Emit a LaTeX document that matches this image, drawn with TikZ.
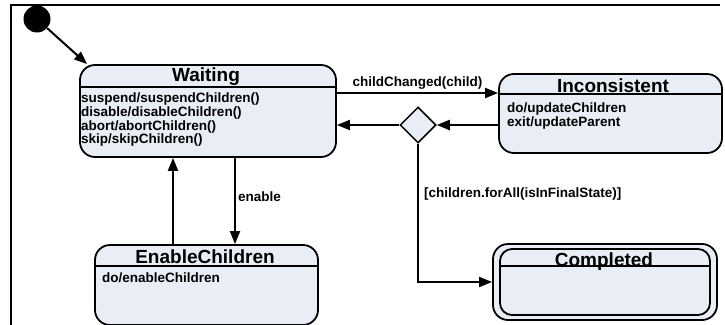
\documentclass[tikz,border=0pt]{standalone}
\usepackage{fontspec}
\setmainfont{Liberation Sans}
\usetikzlibrary{
    arrows.meta,
    shapes.geometric,
    calc,
    positioning
}
\definecolor{stfill}{RGB}{232,237,246}
\tikzset{
    >={Triangle[length=13pt,width=10pt]},
    statebox/.style={draw, line width=1.8pt, fill=stfill, rounded corners=15pt, inner sep=0pt},
    stitle/.style={font=\fontsize{19}{19}\selectfont\bfseries, inner sep=0pt, anchor=base},
    sbody/.style={font=\fontsize{13.5}{12.5}\selectfont\bfseries, align=left, inner sep=0pt, anchor=north west},
    tlabel/.style={font=\fontsize{13.5}{13.5}\selectfont\bfseries, inner sep=0pt},
    conn/.style={line width=2pt}
}

\begin{document}
\begin{tikzpicture}[x=1pt, y=-1pt]
                        \useasboundingbox (0,0) rectangle (725,324);
                        \draw[line width=2.5pt] (11,330) -- (11,5) -- (720,5);

                        \node[circle, fill=black, minimum size=27pt, inner sep=0pt] (init) at (37,19) {};

                        \node[statebox, minimum width=256pt, minimum height=92pt] (waiting) at (208,111) {};
                        \draw[line width=1.8pt] ($(waiting.north west)+(0,23)$) -- ($(waiting.north east)+(0,23)$);
                        \node[stitle] (waitingname) at (206,81) {Waiting};
                        \node[sbody] (waitingdo) at (81,93) {suspend/suspendChildren()\\
                            disable/disableChildren()\\
                            abort/abortChildren()\\
                            skip/skipChildren()};

                        \node[statebox, minimum width=223pt, minimum height=79pt] (inc) at (610.5,113.5) {};
                        \draw[line width=1.8pt] ($(inc.north west)+(0,21)$) -- ($(inc.north east)+(0,21)$);
                        \node[stitle] (incname) at (613,92) {Inconsistent};
                        \node[sbody] (incdo) at (507,103) {do/updateChildren\\
                            exit/updateParent};

                        \node[statebox, minimum width=223pt, minimum height=80pt] (enable) at (206.5,285) {};
                        \draw[line width=1.8pt] ($(enable.north west)+(0,22)$) -- ($(enable.north east)+(0,22)$);
                        \node[stitle] (enablename) at (205,263) {EnableChildren};
                        \node[sbody] (enabledo) at (102,273) {do/enableChildren};

                        \node[statebox, minimum width=224pt, minimum height=76pt] (done) at (605,282) {};
                        \node[statebox, minimum width=210pt, minimum height=66pt, rounded corners=12pt] (doneinner) at (605,282) {};
                        \draw[line width=1.8pt] ($(doneinner.north west)+(0,18)$) -- ($(doneinner.north east)+(0,18)$);
                        \node[stitle] (donename) at (604,266) {Completed};

                        \node[diamond, draw, fill=stfill, line width=1.5pt, minimum size=36pt, inner sep=0pt] (choice) at (418,125) {};

                        \draw[conn]
                        (init) edge[->] ([xshift=8pt]waiting.north west)
                        ([yshift=18pt]waiting.east) edge[->] node[tlabel, above=3pt]{childChanged(child)} ([yshift=18pt]waiting.east -| inc.west)
                        ([yshift=-11.5pt]inc.west) edge[->] (choice)
                        (choice) edge[->] (choice.west -| waiting.east)
                        ([xshift=27pt]waiting.south) edge[->] node[tlabel, pos=0.45, right=2pt]{enable} ([xshift=27pt]waiting.south |- enable.north)
                        ([xshift=-33.5pt]enable.north) edge[->] ([xshift=-33.5pt]enable.north |- waiting.south);
                        \draw[conn, ->] (choice) |- node[tlabel, pos=0.18, right=5pt]{[children.forAll(isInFinalState)]} (done.west);
                    \end{tikzpicture}
\end{document}
